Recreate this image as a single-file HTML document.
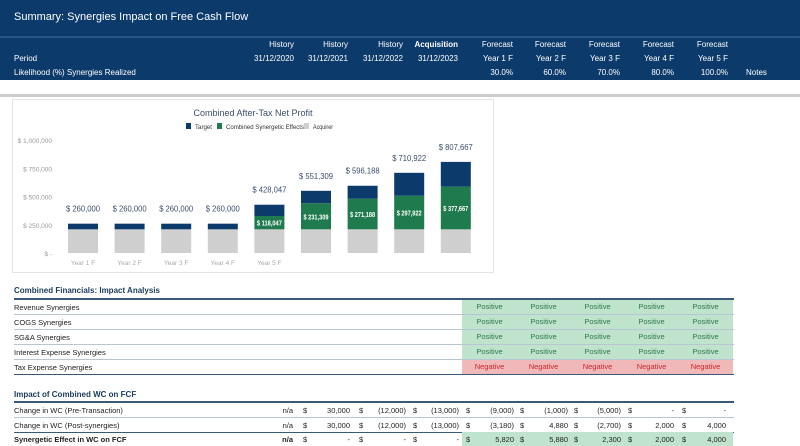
<!DOCTYPE html>
<html><head><meta charset="utf-8">
<style>
*{margin:0;padding:0;box-sizing:border-box}
body{width:800px;height:442px;overflow:hidden;background:#fff;font-family:"Liberation Sans",sans-serif;position:relative}
.a{position:absolute;white-space:nowrap}
.h{color:#fff;font-size:8px}
.r{text-align:right}
.t{font-size:8px;color:#222}
.line{position:absolute;height:1px;background:#3a5a78}
.pos{background:#bfe3cc;color:#2e7a4c}
.neg{background:#f0b8b8;color:#c8282c}
.cell{position:absolute;font-size:7.5px;text-align:center;height:14px;line-height:14px}
</style></head><body>
<div class="a" style="left:0;top:0;width:800px;height:80px;background:#0c3a6b"></div>
<div class="a" style="left:0;top:36px;width:800px;height:2px;background:#2a5585"></div>
<div class="a h" style="left:14px;top:11px;font-size:11px">Summary: Synergies Impact on Free Cash Flow</div>
<div class="a h" style="left:14px;top:54px">Period</div>
<div class="a h" style="left:14px;top:68px">Likelihood (%) Synergies Realized</div>
<div class="a h" style="left:746px;top:68px">Notes</div>
<div id="hdr"></div>
<div class="a" style="left:0;top:94px;width:800px;height:3px;background:#ccc"></div>
<div class="a" style="left:12px;top:99px;width:482px;height:174px;border:1px solid #e4e4e4;background:#fff"></div>
<svg class="a" style="left:0;top:100px" width="500" height="175" id="chart"></svg>

<div class="a t" style="left:14px;top:286px;font-weight:bold;color:#1b3a5c">Combined Financials: Impact Analysis</div>
<div class="line" style="left:14px;top:298px;width:720px;height:2px"></div>
<div id="impact"></div>
<div class="a t" style="left:14px;top:390px;font-weight:bold;color:#1b3a5c">Impact of Combined WC on FCF</div>
<div class="line" style="left:14px;top:401px;width:720px;height:2px"></div>
<div id="wc"></div>
<script>
const hdr1=["History","History","History","Acquisition","Forecast","Forecast","Forecast","Forecast","Forecast"];
const hdr2=["31/12/2020","31/12/2021","31/12/2022","31/12/2023","Year 1 F","Year 2 F","Year 3 F","Year 4 F","Year 5 F"];
const hdr3=["","","","","30.0%","60.0%","70.0%","80.0%","100.0%"];
const hx=[294,348,403,458,513,566,620,674,728];
let h='';
hx.forEach((x,i)=>{
 h+=`<div class="a h r" style="left:${x-60}px;width:60px;top:40px;${i==3?'font-weight:bold':''}">${hdr1[i]}</div>`;
 h+=`<div class="a h r" style="left:${x-60}px;width:60px;top:54px">${hdr2[i]}</div>`;
 h+=`<div class="a h r" style="left:${x-60}px;width:60px;top:68px">${hdr3[i]}</div>`;
});
document.getElementById('hdr').innerHTML=h;

const cats=["Year 1 F","Year 2 F","Year 3 F","Year 4 F","Year 5 F","","","",""];
const acquirer=[210000,210000,210000,210000,210000,210000,210000,210000,210000];
const synergy=[0,0,0,0,118047,231309,271188,297922,377667];
const target=[50000,50000,50000,50000,100000,110000,115000,203000,220000];
const totals=["$ 260,000","$ 260,000","$ 260,000","$ 260,000","$ 428,047","$ 551,309","$ 596,188","$ 710,922","$ 807,667"];
const synLabels=["","","","","$ 118,047","$ 231,309","$ 271,188","$ 297,922","$ 377,667"];
const yTicks=[0,250000,500000,750000,1000000];
const yTickLabels=["$ -","$ 250,000","$ 500,000","$ 750,000","$ 1,000,000"];
const svg=document.getElementById('chart');const NS='http://www.w3.org/2000/svg';
const y=v=>153-v/250000*28.2;
const x=i=>83+i*46.6;
function mk(t,a,txt){const e=document.createElementNS(NS,t);for(const k in a)e.setAttribute(k,a[k]);if(txt!==undefined)e.textContent=txt;svg.appendChild(e);return e;}
let e=mk('text',{x:253,y:16,'text-anchor':'middle','font-size':9,fill:'#3b4f6b'},'Combined After-Tax Net Profit');

const leg=[["Target","#0c3a6b",186,17],["Combined Synergetic Effects","#1f7a4d",217,78],["Acquirer","#cfcfcf",304,20]];
leg.forEach(l=>{let r=mk('rect',{x:l[2],y:23,width:5,height:6,fill:l[1]});
let t=mk('text',{x:l[2]+9,y:29,'font-size':6,fill:'#333',textLength:l[3],lengthAdjust:'spacingAndGlyphs'},l[0]);});
yTicks.forEach((v,i)=>{let t=mk('text',{x:52,y:y(v)+3,'text-anchor':'end','font-size':6.5,fill:'#999'},yTickLabels[i]);});
cats.forEach((c,i)=>{
 const w=30,x0=x(i)-w/2;
 let r=mk('rect',{x:x0,y:y(acquirer[i]),width:w,height:y(0)-y(acquirer[i]),fill:'#cfcfcf'});
 const s1=acquirer[i]+synergy[i];
 if(synergy[i]>0){r=mk('rect',{x:x0,y:y(s1),width:w,height:y(acquirer[i])-y(s1),fill:'#1f7a4d'});
  let t=mk('text',{x:x(i),y:(y(s1)+y(acquirer[i]))/2+3,'text-anchor':'middle','font-size':7,fill:'#fff','font-weight':'bold',textLength:25,lengthAdjust:'spacingAndGlyphs'},synLabels[i]);}
 const s2=s1+target[i];
 r=mk('rect',{x:x0,y:y(s2),width:w,height:y(s1)-y(s2),fill:'#0c3a6b'});
 let t=mk('text',{x:x(i),y:y(s2)-12,'text-anchor':'middle','font-size':8,fill:'#3b4f6b',textLength:34,lengthAdjust:'spacingAndGlyphs'},totals[i]);
 if(c){t=mk('text',{x:x(i),y:165,'text-anchor':'middle','font-size':6.5,fill:'#aaa'},c);}
});

const impRows=["Revenue Synergies","COGS Synergies","SG&amp;A Synergies","Interest Expense Synergies","Tax Expense Synergies"];
const cx=[462,516,570,624,678];
let m='';
impRows.forEach((n,i)=>{const top=300+i*15;
 m+=`<div class="a t" style="left:14px;top:${top+3}px;font-size:7.5px">${n}</div>`;
 cx.forEach(c=>{const neg=i==4;m+=`<div class="cell ${neg?'neg':'pos'}" style="left:${c}px;top:${top}px;width:55px">${neg?'Negative':'Positive'}</div>`;});
 m+=`<div class="line" style="left:14px;top:${top+14}px;width:720px;background:${i==4?'#3a5a78':'#b8c6d2'}"></div>`;
});
document.getElementById('impact').innerHTML=m;

const wcRows=["Change in WC (Pre-Transaction)","Change in WC (Post-synergies)","Synergetic Effect in WC on FCF"];
const wcVals=[["30,000","(12,000)","(13,000)","(9,000)","(1,000)","(5,000)","-","-"],["30,000","(12,000)","(13,000)","(3,180)","4,880","(2,700)","2,000","4,000"],["-","-","-","5,820","5,880","2,300","2,000","4,000"]];
const vr=[350,406,459,514,568,621,674,726];const dx=[303,359,413,466,520,574,628,682];
let w='';
wcRows.forEach((n,i)=>{const top=403+i*14.5;const b=i==2?'font-weight:bold;':'';
 if(i==2)w+=`<div class="a pos" style="left:462px;top:${top}px;width:271px;height:14px"></div>`;
 w+=`<div class="a t" style="left:14px;top:${top+3}px;font-size:7.5px;${b}">${n}</div>`;
 w+=`<div class="a t r" style="left:263px;width:30px;top:${top+3}px;font-size:7.5px;${b}">n/a</div>`;
 wcVals[i].forEach((v,j)=>{
  w+=`<div class="a t" style="left:${dx[j]}px;top:${top+3}px;font-size:7.5px">$</div>`;
  w+=`<div class="a t r" style="left:${vr[j]-45}px;width:45px;top:${top+3}px;font-size:7.5px">${v}</div>`;});
 if(i<2)w+=`<div class="line" style="left:14px;top:${top+14}px;width:720px;background:${i==1?'#3a5a78':'#b8c6d2'}"></div>`;
});
document.getElementById('wc').innerHTML=w;
</script>
</body></html>
